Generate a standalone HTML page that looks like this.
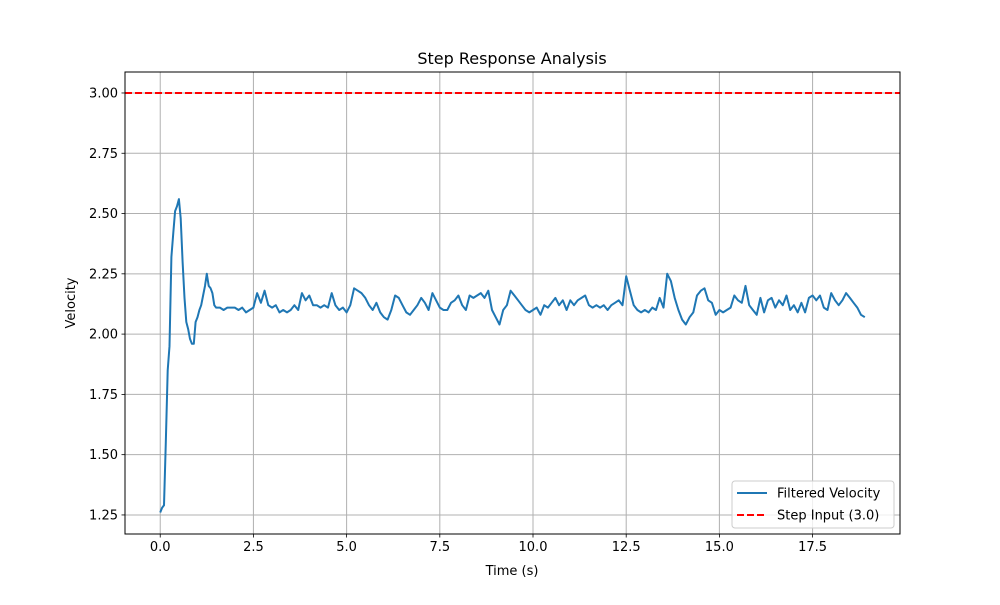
<!DOCTYPE html>
<html><head><meta charset="utf-8"><style>
body{margin:0;background:#fff}
text{font-family:"DejaVu Sans","Liberation Sans",sans-serif;fill:#000}
</style></head><body>
<svg id="chart" width="1000" height="600" viewBox="0 0 1000 600" xmlns="http://www.w3.org/2000/svg">
<rect width="1000" height="600" fill="#fff"/>
<g id="grid"></g>
<g id="ticks"></g>
<g id="series"></g>
<rect x="125" y="72" width="775" height="462" fill="none" stroke="#000" stroke-width="1"/>
<text x="512" y="64" font-size="16" text-anchor="middle">Step Response Analysis</text>
<text x="512" y="575" font-size="13" text-anchor="middle">Time (s)</text>
<text x="75" y="303" font-size="13" text-anchor="middle" transform="rotate(-90 75 303)">Velocity</text>
<g>
<rect x="732" y="481" width="162" height="47" rx="3" fill="#fff" fill-opacity="0.8" stroke="#ccc"/>
<line x1="737" y1="493" x2="767" y2="493" stroke="#1f77b4" stroke-width="2"/>
<text x="777" y="497.5" font-size="13">Filtered Velocity</text>
<line x1="737" y1="515" x2="767" y2="515" stroke="#ff0000" stroke-width="2" stroke-dasharray="7,3"/>
<text x="777" y="519.5" font-size="13">Step Input (3.0)</text>
</g>
</svg>
<script>
const xTicks = [0, 2.5, 5, 7.5, 10, 12.5, 15, 17.5];
const xTickLabels = ["0.0","2.5","5.0","7.5","10.0","12.5","15.0","17.5"];
const yTicks = [1.25, 1.5, 1.75, 2.0, 2.25, 2.5, 2.75, 3.0];
const yTickLabels = ["1.25","1.50","1.75","2.00","2.25","2.50","2.75","3.00"];
const stepValue = 3.0;
const earlyTimes = [0,0.05,0.1,0.15,0.2,0.25,0.3,0.35,0.4,0.45,0.5,0.55,0.6,0.65,0.7,0.75,0.8,0.85,0.9,0.95,1.0,1.05,1.1,1.15,1.2,1.25,1.3,1.35,1.4,1.45,1.5];
const earlyValues = [1.26,1.28,1.29,1.55,1.85,1.95,2.32,2.42,2.51,2.53,2.56,2.48,2.3,2.15,2.05,2.02,1.98,1.96,1.96,2.05,2.07,2.1,2.12,2.16,2.2,2.25,2.2,2.19,2.17,2.12,2.11];
const regularStart = 1.6;
const regularStep = 0.1;
const regularValues = [
2.11,2.10,2.11,2.11,2.11,2.10,2.11,2.09,2.10,2.11,
2.17,2.13,2.18,2.12,2.11,2.12,2.09,2.10,2.09,2.10,
2.12,2.10,2.17,2.14,2.16,2.12,2.12,2.11,2.12,2.11,
2.17,2.12,2.10,2.11,2.09,2.12,2.19,2.18,2.17,2.15,
2.12,2.10,2.13,2.09,2.07,2.06,2.10,2.16,2.15,2.12,
2.09,2.08,2.10,2.12,2.15,2.13,2.10,2.17,2.14,2.11,
2.10,2.10,2.13,2.14,2.16,2.12,2.10,2.16,2.15,2.16,
2.17,2.15,2.18,2.10,2.07,2.04,2.10,2.12,2.18,2.16,
2.14,2.12,2.10,2.09,2.10,2.11,2.08,2.12,2.11,2.13,
2.15,2.12,2.14,2.10,2.14,2.12,2.14,2.15,2.16,2.12,
2.11,2.12,2.11,2.12,2.10,2.12,2.13,2.14,2.12,2.24,
2.18,2.12,2.10,2.09,2.10,2.09,2.11,2.10,2.15,2.11,
2.25,2.22,2.15,2.10,2.06,2.04,2.07,2.09,2.16,2.18,
2.19,2.14,2.13,2.08,2.10,2.09,2.10,2.11,2.16,2.14,
2.13,2.20,2.12,2.10,2.08,2.15,2.09,2.14,2.15,2.11,
2.14,2.12,2.16,2.10,2.12,2.09,2.13,2.09,2.15,2.16,
2.14,2.16,2.11,2.10,2.17,2.14,2.12,2.14,2.17,2.15,
2.13,2.11,2.08,2.07];

const L=125,R=900,T=72,B=534;
const xMin=-0.945,xMax=19.845,yMin=1.171,yMax=3.087;
const sx=v=>L+(v-xMin)/(xMax-xMin)*(R-L);
const sy=v=>B-(v-yMin)/(yMax-yMin)*(B-T);
const NS="http://www.w3.org/2000/svg";
function mk(tag,attrs,parent){const e=document.createElementNS(NS,tag);for(const k in attrs)e.setAttribute(k,attrs[k]);parent.appendChild(e);return e;}
const grid=document.getElementById('grid'),ticks=document.getElementById('ticks'),series=document.getElementById('series');
xTicks.forEach((t,i)=>{
  const x=sx(t);
  const g=mk('line',{x1:x,y1:T,x2:x,y2:B,stroke:'#b0b0b0','stroke-width':1},grid);
  
  
  const tk=mk('line',{x1:x,y1:B,x2:x,y2:B+3.5,stroke:'#000','stroke-width':0.8},ticks);
  
  
  const lb=mk('text',{x:x,y:B+17,'font-size':13,'text-anchor':'middle'},ticks);
  lb.textContent=xTickLabels[i];
  
  
});
yTicks.forEach((t,i)=>{
  const y=sy(t);
  const g=mk('line',{x1:L,y1:y,x2:R,y2:y,stroke:'#b0b0b0','stroke-width':1},grid);
  
  
  const tk=mk('line',{x1:L-3.5,y1:y,x2:L,y2:y,stroke:'#000','stroke-width':0.8},ticks);
  
  
  const lb=mk('text',{x:L-7,y:y+4.5,'font-size':13,'text-anchor':'end'},ticks);
  lb.textContent=yTickLabels[i];
  
  
});
const pts=[];
earlyTimes.forEach((t,i)=>pts.push([t,earlyValues[i]]));
regularValues.forEach((v,i)=>pts.push([regularStart+i*regularStep,v]));
const line=mk('polyline',{points:pts.map(p=>sx(p[0]).toFixed(1)+','+sy(p[1]).toFixed(1)).join(' '),fill:'none',stroke:'#1f77b4','stroke-width':2,'stroke-linejoin':'round'},series);


const step=mk('line',{x1:L,y1:sy(stepValue),x2:R,y2:sy(stepValue),stroke:'#ff0000','stroke-width':2,'stroke-dasharray':'7,3'},series);


</script>
</body></html>
